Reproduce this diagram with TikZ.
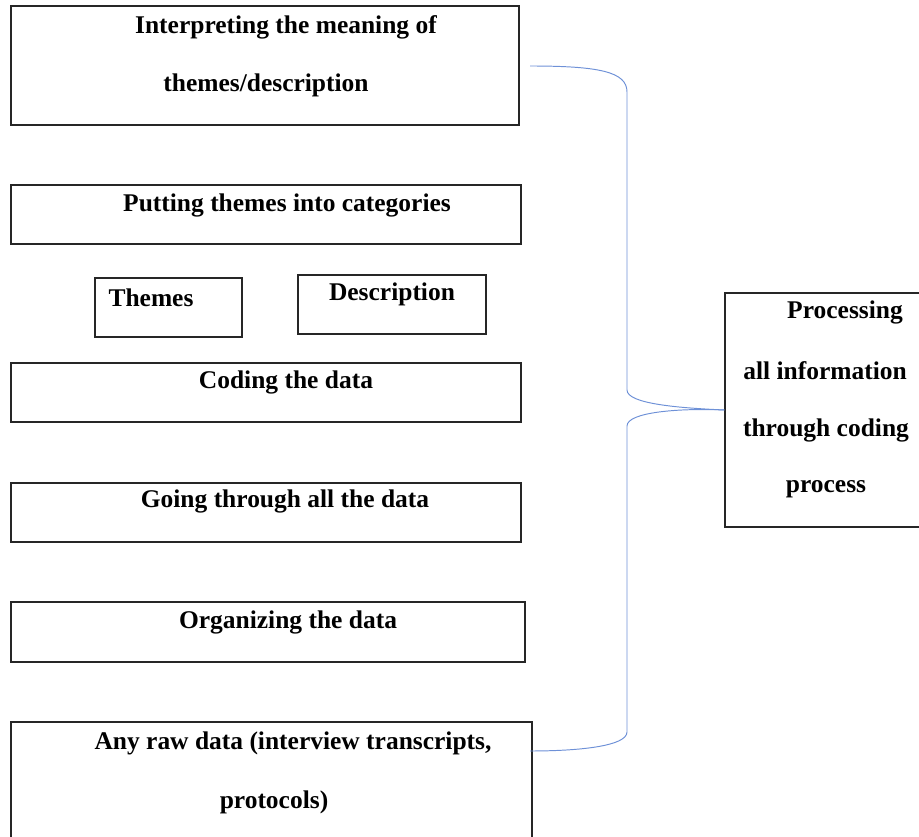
\documentclass[tikz,border=0pt]{standalone}
\usepackage{fontspec}
\setmainfont{Liberation Serif}
\usetikzlibrary{positioning}
\definecolor{bracecol}{RGB}{110,145,215}
\begin{document}
\begin{tikzpicture}[x=0.02cm,y=-0.02cm,
    box/.style={draw=black!85,line width=0.7pt,inner sep=0pt},
    lbl/.style={font=\fontsize{14.5}{17}\bfseries,inner sep=0pt,align=center},
    brace/.style={draw=bracecol,line width=0.55pt}]
    \clip (0,0) rectangle (919,837);
    % boxes
    \begin{scope}[every node/.style={box}]
        \node (interp) [minimum width=10.16cm,minimum height=2.38cm] at (265,65.5) {};
        \node (putting) [minimum width=10.2cm,minimum height=1.18cm] at (266,214.5) {};
        \node (themes) [minimum width=2.94cm,minimum height=1.18cm] at (168.5,307.5) {};
        \node (descr) [minimum width=3.76cm,minimum height=1.18cm] at (392,304.5) {};
        \node (coding) [minimum width=10.2cm,minimum height=1.18cm] at (266,392.5) {};
        \node (going) [minimum width=10.2cm,minimum height=1.18cm] at (266,512.5) {};
        \node (organ) [minimum width=10.28cm,minimum height=1.2cm] at (268,632) {};
        \node (raw) [minimum width=10.42cm,minimum height=2.6cm] at (271.5,787) {};
        \node (proc) [minimum width=4.4cm,minimum height=4.68cm] at (835,410) {};
    \end{scope}
    % texts
    \begin{scope}[every node/.style={lbl}]
        \node (interpA) at (286,27) {Interpreting the meaning of};
        \node (interpB) at (266,85) {themes/description};
        \node (puttingT) at (287,205) {Putting themes into categories};
        \node (themesT) at (151,298) {Themes};
        \node (descrT) at (392,294) {Description};
        \node (codingT) at (286,382) {Coding the data};
        \node (goingT) at (285,501) {Going through all the data};
        \node (organT) at (288,622) {Organizing the data};
        \node (rawA) at (293,743) {Any raw data (interview transcripts,};
        \node (rawB) at (274,802) {protocols)};
        \node (procA) at (845,312) {Processing};
        \node (procB) at (825,371) {all information};
        \node (procC) at (826,430) {through coding};
        \node (procD) at (826,489) {process};
    \end{scope}
    % brace
    \coordinate (bTop) at (530,66);
    \coordinate (bBot) at (530,751);
    \draw[brace] (bTop) .. controls (600,66) and (627,72) .. (627,92)
        -- (627,390) .. controls (627,404) and (680,408) .. (proc.west);
    \draw[brace] (proc.west) .. controls (680,408) and (627,412) .. (627,426)
        -- (627,732) .. controls (627,746) and (580,751) .. (bBot);
\end{tikzpicture}
\end{document}
